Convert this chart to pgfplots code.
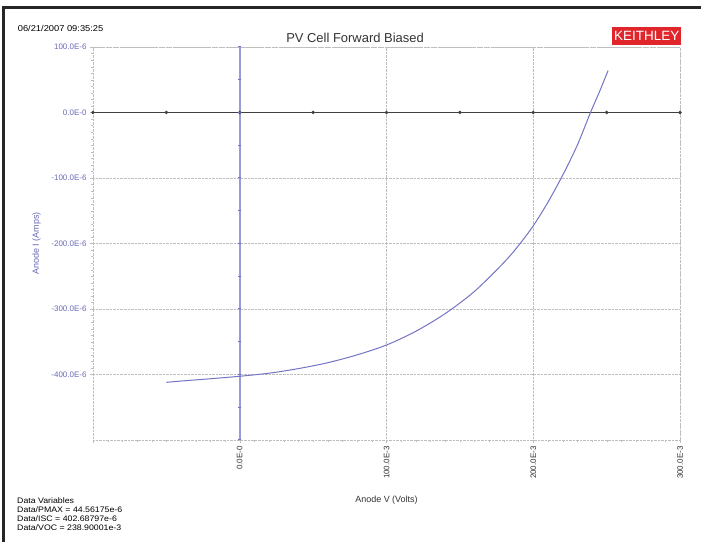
\documentclass[border=0pt]{standalone}
\usepackage{pgfplots}
\pgfplotsset{compat=1.18}
\usepackage{fontspec}
\setmainfont{Liberation Sans}
\definecolor{curveblue}{HTML}{7474C4}
\definecolor{vlineblue}{HTML}{9A9AD8}
\definecolor{axisblue}{HTML}{6A6AB8}
\definecolor{gridgray}{HTML}{BEBEBE}
\definecolor{keithred}{HTML}{E0252B}

% I-V sweep, current in microamps
\pgfplotstableread{
V       I
-0.050  -412
-0.040  -410
-0.020  -406.5
0.000   -402.7
0.020   -398
0.040   -391
0.060   -382
0.080   -370
0.100   -355
0.120   -334
0.140   -307
0.160   -273
0.180   -229
0.190   -203
0.200   -173
0.210   -137
0.220   -96
0.230   -50
0.239   0
0.245   31
0.251   64
}\ivdata

\begin{document}
\begin{tikzpicture}[x=1bp,y=1bp]
\path[use as bounding box] (0,0) rectangle (701,542);
\fill[white] (0,0) rectangle (701,542);
\draw[line width=3bp,black!85] (3,0) -- (3,534) -- (701,534);

\node[anchor=west,font=\fontsize{8.5}{10}\selectfont,xscale=1.1] at (14,514) {06/21/2007 09:35:25};
\node[font=\fontsize{13}{15}\selectfont,black!80] at (355,504) {PV Cell Forward Biased};
\begin{scope}
\clip (600,480) rectangle (701,530);
\node[fill=keithred,text=white,anchor=west,inner sep=2bp,minimum height=18bp,font=\fontsize{13.5}{15}\selectfont] at (612,506) {KEITHLEY};
\end{scope}

\begin{axis}[
    at={(93bp,102bp)}, anchor=south west,
    scale only axis, width=587bp, height=393bp,
    xmin=-0.1, xmax=0.3, ymin=-500, ymax=100,
    axis line style={gridgray, densely dotted},
    xtick={-0.1,0,0.1,0.2,0.3},
    xticklabels={,0.0E-0,100.0E-3,200.0E-3,300.0E-3},
    ytick={-400,-300,-200,-100,0,100},
    yticklabels={-400.0E-6,-300.0E-6,-200.0E-6,-100.0E-6,0.0E-0,100.0E-6},
    minor x tick num=9, minor y tick num=9,
    tick style={gridgray}, major tick length=3bp, minor tick length=2bp,
    tick align=outside,
    xtick pos=bottom, ytick pos=left,
    grid=major, major grid style={gridgray, densely dotted},
    x tick label style={rotate=90, anchor=east, font=\fontsize{8}{9}\selectfont, text=black!80},
    y tick label style={font=\fontsize{8}{9}\selectfont, text=axisblue},
    xlabel={Anode V (Volts)},
    xlabel style={font=\fontsize{9}{10}\selectfont, yshift=-10bp, text=black!80},
    ylabel={Anode I (Amps)},
    ylabel style={font=\fontsize{9}{10}\selectfont, text=axisblue, yshift=4bp},
    clip=false,
]
\addplot[black!75, line width=1.1bp, mark=*, mark size=1.1bp] coordinates {
  (-0.1,0) (-0.05,0) (0,0) (0.05,0) (0.1,0) (0.15,0) (0.2,0) (0.25,0) (0.3,0)};
\addplot[vlineblue, line width=2.4bp, mark=-, mark size=1.5bp, mark options={line width=1bp, curveblue}] coordinates {
  (0,-500) (0,-450) (0,-400) (0,-350) (0,-300) (0,-250) (0,-200) (0,-150)
  (0,-100) (0,-50) (0,0) (0,50) (0,100)};
\addplot[curveblue, line width=1bp, smooth] table[x=V, y=I] {\ivdata};
\end{axis}

\node[anchor=north west,align=left,font=\fontsize{8}{8.8}\selectfont,inner sep=0pt,xscale=1.1] at (17,44)
  {Data Variables\\Data/PMAX = 44.56175e-6\\Data/ISC = 402.68797e-6\\Data/VOC = 238.90001e-3};
\end{tikzpicture}
\end{document}
